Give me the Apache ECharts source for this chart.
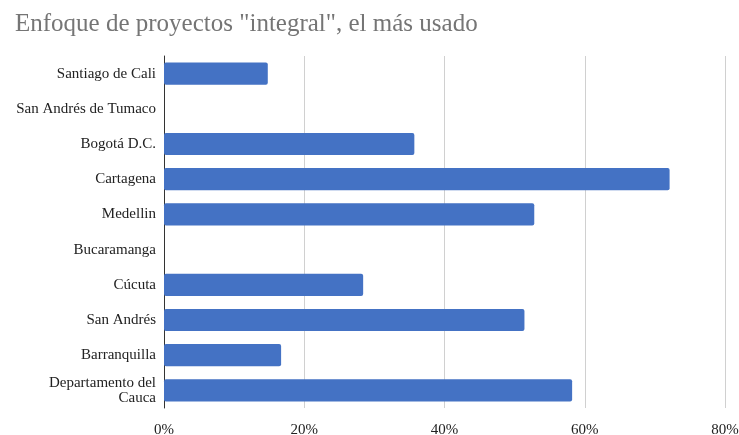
<!DOCTYPE html>
<html><head><meta charset="utf-8">
<script src="https://cdn.jsdelivr.net/npm/echarts@6/dist/echarts.min.js"></script>
<style>html,body{margin:0;padding:0;background:#fff}#c{width:739px;height:435px}</style>
</head><body><div id="c"></div>
<script>
const categories = ["Santiago de Cali","San Andrés de Tumaco","Bogotá D.C.","Cartagena","Medellin","Bucaramanga","Cúcuta","San Andrés","Barranquilla","Departamento del\nCauca"];
const values = [14.8, 0, 35.7, 72.1, 52.8, 0, 28.4, 51.4, 16.7, 58.2];
const xTicks = [0, 20, 40, 60, 80];
const titleText = 'Enfoque de proyectos "integral", el más usado';

const chart = echarts.init(document.getElementById('c'));
chart.setOption({
  animation: false,
  title: { text: titleText, left: 10, top: 7, padding: 5,
    textStyle: { fontFamily: 'Liberation Serif', fontSize: 25, fontWeight: 'normal', color: '#757575' } },
  grid: { left: 164, right: 14, top: 56, bottom: 27, containLabel: false, outerBoundsMode: 'none' },
  xAxis: { type: 'value', min: xTicks[0], max: xTicks[xTicks.length-1], interval: 20,
    axisLine: { show: false }, axisTick: { show: false },
    splitLine: { lineStyle: { color: '#d0d0d0', width: 1 } },
    axisLabel: { formatter: v => v + '%', fontFamily: 'Liberation Serif', fontSize: 15, color: '#222', margin: 15 } },
  yAxis: { type: 'category', data: categories, inverse: true,
    axisLine: { lineStyle: { color: '#333', width: 1 } }, axisTick: { show: false },
    axisLabel: { fontFamily: 'Liberation Serif', fontSize: 15, color: '#222', margin: 8, lineHeight: 15, align: 'right' } },
  series: [{ type: 'bar', data: values, barCategoryGap: '37%',
    itemStyle: { color: '#4472c4', borderRadius: 2 } }]
});
</script></body></html>
